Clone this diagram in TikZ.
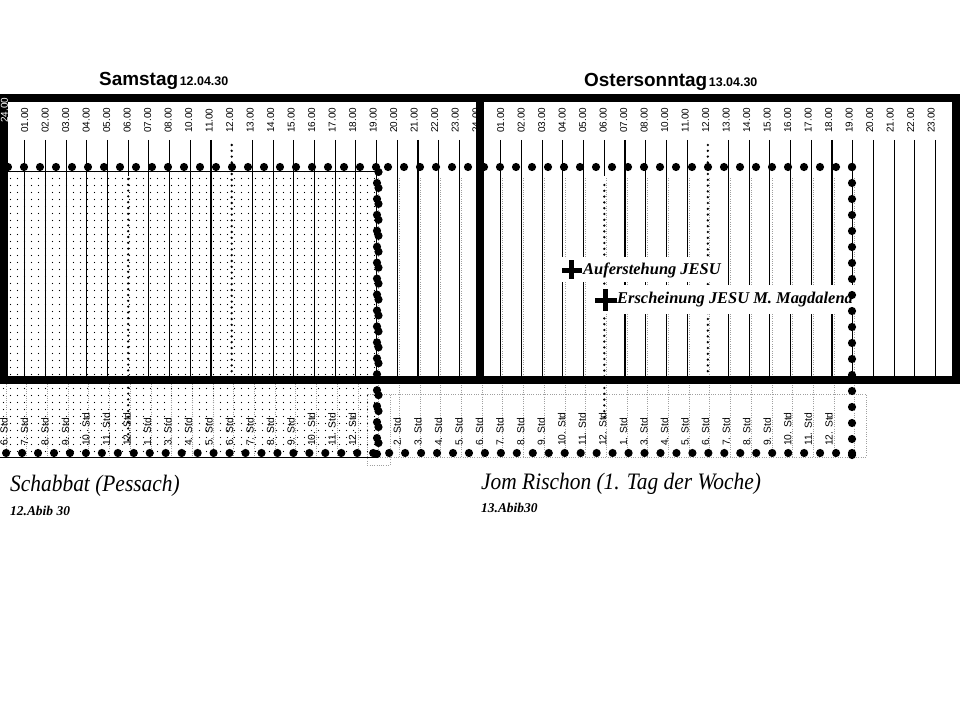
\documentclass[tikz,border=0pt]{standalone}
\usepackage{fontspec}
\usepackage{graphicx}
\usetikzlibrary{patterns.meta}
\newfontfamily\lsans{Liberation Sans}
\newfontfamily\lserif{Liberation Serif}
\tikzdeclarepattern{
  name=stipple,
  bottom left={(0pt,0pt)},
  top right={(7pt,7pt)},
  tile size={(7pt,7pt)},
  code={\pgfpathcircle{\pgfpoint{3.5pt}{3.5pt}}{0.65pt}\pgfusepath{fill}}
}
\tikzset{
  hourline/.style={line width=1.1bp},
  thindots/.style={line width=2.6bp, line cap=round, dash pattern=on 0bp off 5.8bp},
  graydots/.style={draw=gray!75, line width=0.7bp, dash pattern=on 0.7bp off 1.6bp},
  toplbl/.style={rotate=90, anchor=west, inner sep=0pt, font=\lsans\fontsize{10}{12}\selectfont},
  botlbl/.style={rotate=90, anchor=west, inner sep=0pt, font=\lsans\fontsize{10.3}{12}\selectfont},
  boxframe/.style={line width=8.5bp},
  annot/.style={anchor=base west, inner sep=0pt, font=\lserif\bfseries\itshape\fontsize{16.5}{19}\selectfont},
  bigtext/.style={anchor=base west, inner sep=0pt, font=\lserif\itshape\fontsize{21.5}{25}\selectfont},
  smalltext/.style={anchor=base west, inner sep=0pt, font=\lserif\bfseries\itshape\fontsize{13.5}{16}\selectfont},
  titletext/.style={anchor=base west, inner sep=0pt, font=\lsans\bfseries},
}
\begin{document}
\begin{tikzpicture}[x=1bp,y=-1bp]
\useasboundingbox (0,0) rectangle (960,720);
\fill[white] (0,0) rectangle (960,720);
% stippled Sabbath area
\fill[pattern=stipple, pattern color=black] (0,171) rectangle (377,457);
% gray dotted grid of the lower table
\foreach \k in {0,...,17} {
  \pgfmathsetmacro\xx{4+20.7*\k+2}
  \draw[graydots] (\xx,384) -- (\xx,457);
}
\foreach \k in {18,...,41} {
  \pgfmathsetmacro\xx{4+20.7*\k+2}
  \draw[graydots] (\xx,178) -- (\xx,457);
}
\draw[graydots] (367,394) rectangle (866,457);
\draw[graydots] (367,394) rectangle (390,465);
% solid hour lines
\foreach \k in {1,2,3,4,5,7,8,9,10,12,13,14,15,16,17,18,19,20,21,22,24,25,26,27,28,30,31,32,33,35,36,37,38,39,40,41,42,43,44,45} {
  \pgfmathsetmacro\xx{4+20.7*\k}
  \draw[hourline] (\xx,140) -- (\xx,377);
}
\foreach \k in {6,29} {
  \pgfmathsetmacro\xx{4+20.7*\k}
  \draw[hourline] (\xx,140) -- (\xx,176);
}
% thin dotted lines
\draw[thindots] (128.2,179) -- (128.2,442);
\draw[thindots] (231.7,145) -- (231.7,375);
\draw[thindots] (604.3,185) -- (604.3,422);
\draw[thindots] (707.8,145) -- (707.8,375);
% stipple borders
\draw[line width=1bp] (0,171) -- (377,171);
\draw[line width=1bp] (0,457) -- (377,457);
% top hour labels
\foreach \lab [count=\i] in {01,02,03,04,05,06,07,08,10,11,12,13,14,15,16,17,18,19,20,21,22,23} {
  \pgfmathsetmacro\xa{4+20.7*\i-0.2*(\i-1)}
  \pgfmathsetmacro\xb{4+20.7*(\i+23)-0.2*(\i-1)}
  \node[toplbl] (sa\i) at (\xa,133) {\lab.00};
  \node[toplbl] (so\i) at (\xb,133) {\lab.00};
}
\node[toplbl] (mid24) at (476,133) {24.00};
% frame
\draw[boxframe] (4,98) rectangle (956,380);
\draw[line width=8bp] (480,98) -- (480,380);
\node[toplbl, text=white] (left24) at (4.5,123) {24.00};
% bottom hour labels
\foreach \lab [count=\i from 0] in {6,7,8,9,10,11,12,1,3,4,5,6,7,8,9,10,11,12} {
  \pgfmathsetmacro\xa{4+20.7*\i-0.2*\i}
  \node[botlbl] (ba\i) at (\xa,446) {\lab. Std};
}
\foreach \lab [count=\i from 0] in {2,3,4,5,6,7,8,9,10,11,12,1,3,4,5,6,7,8,9,10,11,12} {
  \pgfmathsetmacro\xb{4+20.7*(\i+19)-0.15*\i}
  \node[botlbl] (bb\i) at (\xb,446) {\lab. Std};
}
% annotations
\fill[white] (561,257) rectangle (728,282);
\fill[white] (594,285) rectangle (856,314);
\fill (561.5,268) rectangle (582,273);
\fill (569,260) rectangle (574,279);
\fill (595,298) rectangle (617,303);
\fill (603,289) rectangle (608,311);
\node[annot] (auf) at (583,274) {Auferstehung JESU};
\node[annot] (ersch) at (617,303) {Erscheinung JESU M. Magdalena};
% heavy dotted lines
\foreach \j in {0,...,23} \fill (8+16*\j,167) circle (4.1bp);
\foreach \j in {0,...,29} \fill (388+16*\j,167) circle (4.1bp);
\foreach \j in {0,...,18} \fill (852,167+16*\j) circle (4.1bp);
\foreach \j in {0,...,53} \fill (852-15.96*\j,453) circle (4.1bp);
\foreach \j in {0,...,17} \fill (377,183+15.94*\j) circle (4.1bp);
\foreach \j in {0,...,17} \fill (378.5,172+15.94*\j) circle (4.1bp);
% titles
\node[titletext] (sam) at (99,86) {{\fontsize{19}{22}\selectfont Samstag}\,{\fontsize{12.5}{14}\selectfont 12.04.30}};
\node[titletext] (ost) at (584,87) {{\fontsize{19}{22}\selectfont Ostersonntag}\,{\fontsize{12.5}{14}\selectfont 13.04.30}};
% day names
\node[bigtext] (schab) at (10,491) {\scalebox{1}[1.1]{Schabbat (Pessach)}};
\node[smalltext] (abib12) at (10,515) {12.Abib 30};
\node[bigtext] (jom) at (481,489) {\scalebox{1}[1.1]{Jom Rischon (1. Tag der Woche)}};
\node[smalltext] (abib13) at (481,512) {13.Abib30};
\end{tikzpicture}
\end{document}
